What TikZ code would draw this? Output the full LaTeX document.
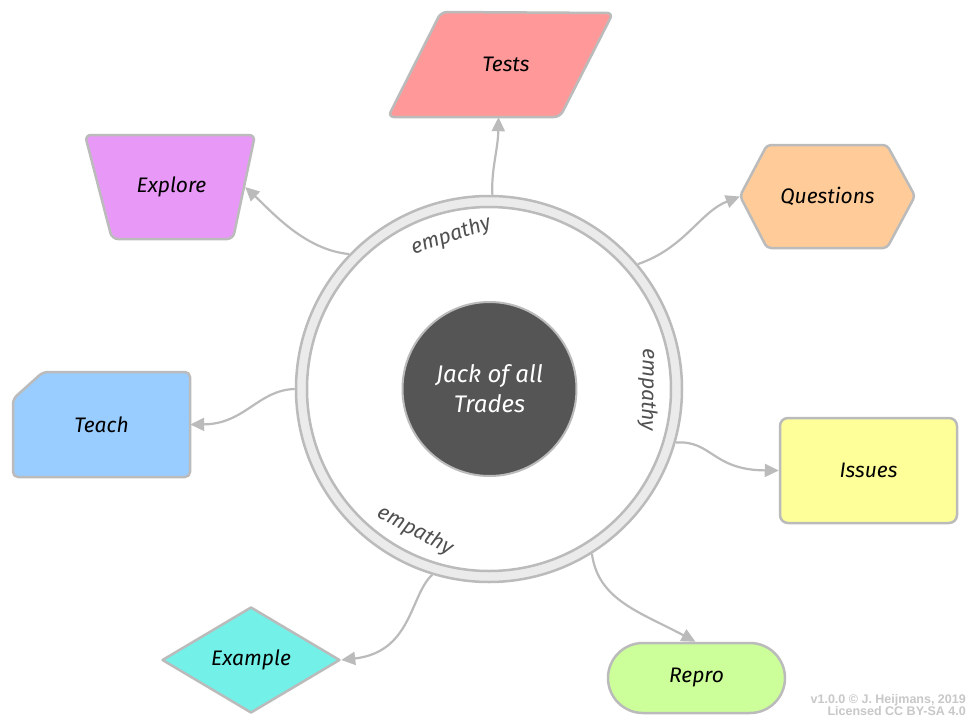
\documentclass[tikz,border=0pt]{standalone}
\usepackage{fontspec}
\setmainfont{Fira Sans}
\newfontfamily\smallsans{Liberation Sans}
\usetikzlibrary{arrows.meta,shapes.geometric}
\definecolor{edgegray}{HTML}{BBBBBB}
\definecolor{ringgray}{HTML}{EBEBEB}
\definecolor{coregray}{HTML}{555555}
\definecolor{emptext}{HTML}{505050}
\definecolor{testsfill}{HTML}{FF9999}
\definecolor{explorefill}{HTML}{E899F8}
\definecolor{questfill}{HTML}{FFCC99}
\definecolor{teachfill}{HTML}{99CCFF}
\definecolor{issuesfill}{HTML}{FFFF99}
\definecolor{examplefill}{HTML}{73F0E8}
\definecolor{reprofill}{HTML}{CCFF99}
\definecolor{crgray}{HTML}{C8C8C8}
\begin{document}
\begin{tikzpicture}[x=1pt,y=-1pt,
  outline/.style={draw=edgegray,line width=2.5pt,line join=round},
  boxlbl/.style={font=\fontsize{21}{25}\selectfont\itshape,text=black,inner sep=0pt,draw=none},
  conn/.style={draw=edgegray,line width=2.2pt,-{Triangle[length=14pt,width=13pt]}},
  emp/.style={font=\fontsize{21}{25}\selectfont\itshape,text=emptext,inner sep=0pt}]
\useasboundingbox[fill=white] (0,0) rectangle (970,726);

% shape outlines
\draw[outline,fill=testsfill,rounded corners=6pt] (441,12) -- (613,13) -- (560,117) -- (388,117) -- cycle;
\draw[outline,fill=explorefill,rounded corners=6pt] (85,135) -- (255,135) -- (233,239) -- (112,239) -- cycle;
\draw[outline,fill=questfill,rounded corners=4pt] (740,196) -- (767,145) -- (887,145) -- (915,196) -- (887,248) -- (767,248) -- cycle;
\draw[outline,fill=teachfill,rounded corners=5pt] (13,399) -- (43,372) -- (190,372) -- (190,477) -- (13,477) -- cycle;

% shape nodes
\node[boxlbl,minimum width=225pt,minimum height=105pt] (tests) at (500.5,64.5) {\hspace{11pt}Tests};
\node[boxlbl,minimum width=170pt,minimum height=104pt] (explore) at (170,187) {\hspace{3pt}Explore};
\node[boxlbl,minimum width=175pt,minimum height=103pt] (questions) at (827.5,196.5) {Questions};
\node[boxlbl,minimum width=177pt,minimum height=105pt] (teach) at (101.5,424.5) {Teach};
\node[boxlbl,outline,fill=issuesfill,rounded corners=8pt,minimum width=177pt,minimum height=105pt] (issues) at (868.5,470.5) {Issues};
\node[boxlbl,outline,fill=examplefill,diamond,minimum width=178pt,minimum height=106pt] (example) at (251,660) {Example};
\node[boxlbl,outline,fill=reprofill,rounded corners=35pt,minimum width=177pt,minimum height=70pt] (repro) at (696.5,678) {Repro};

% centre
\node[circle,draw=edgegray,line width=2.5pt,fill=ringgray,minimum size=386pt,inner sep=0pt] (ring) at (489,389) {};
\node[circle,draw=edgegray,line width=2.5pt,fill=white,minimum size=364pt,inner sep=0pt] (inner) at (489,389) {};
\node[circle,draw=edgegray,line width=2pt,fill=coregray,minimum size=174pt,inner sep=0pt,
      text=white,align=center,font=\fontsize{24}{30}\selectfont\itshape] (core) at (489.5,389) {Jack of all\\Trades};

\node[emp,rotate=18] (emp1) at (451,236) {empathy};
\node[emp,rotate=-91] (emp2) at (648,390) {empathy};
\node[emp,rotate=-28] (emp3) at (415,531) {empathy};

% connectors
\draw[conn] (ring.89) .. controls (491,170) and (498,150) .. ([xshift=-2pt]tests.south);
\draw[conn] (ring.136.5) .. controls (305,250) and (272,212) .. ([xshift=-10pt]explore.east);
\draw[conn] (ring.40) .. controls (685,248) and (700,212) .. (questions.west);
\draw[conn] (ring.180) .. controls (258,390) and (245,424) .. (teach.east);
\draw[conn] (ring.344) .. controls (712,440) and (712,470) .. (issues.west);
\draw[conn] (ring.302) .. controls (598,600) and (640,612) .. ([xshift=-1pt]repro.north);
\draw[conn] (ring.253) .. controls (410,595) and (412,652) .. (example.east);

\node[anchor=east,align=right,inner sep=0pt,text=crgray,font=\smallsans\bfseries\fontsize{12.5}{12.5}\selectfont] (credit) at (966,705) {v1.0.0 © J. Heijmans, 2019\\Licensed CC BY-SA 4.0};
\end{tikzpicture}
\end{document}
